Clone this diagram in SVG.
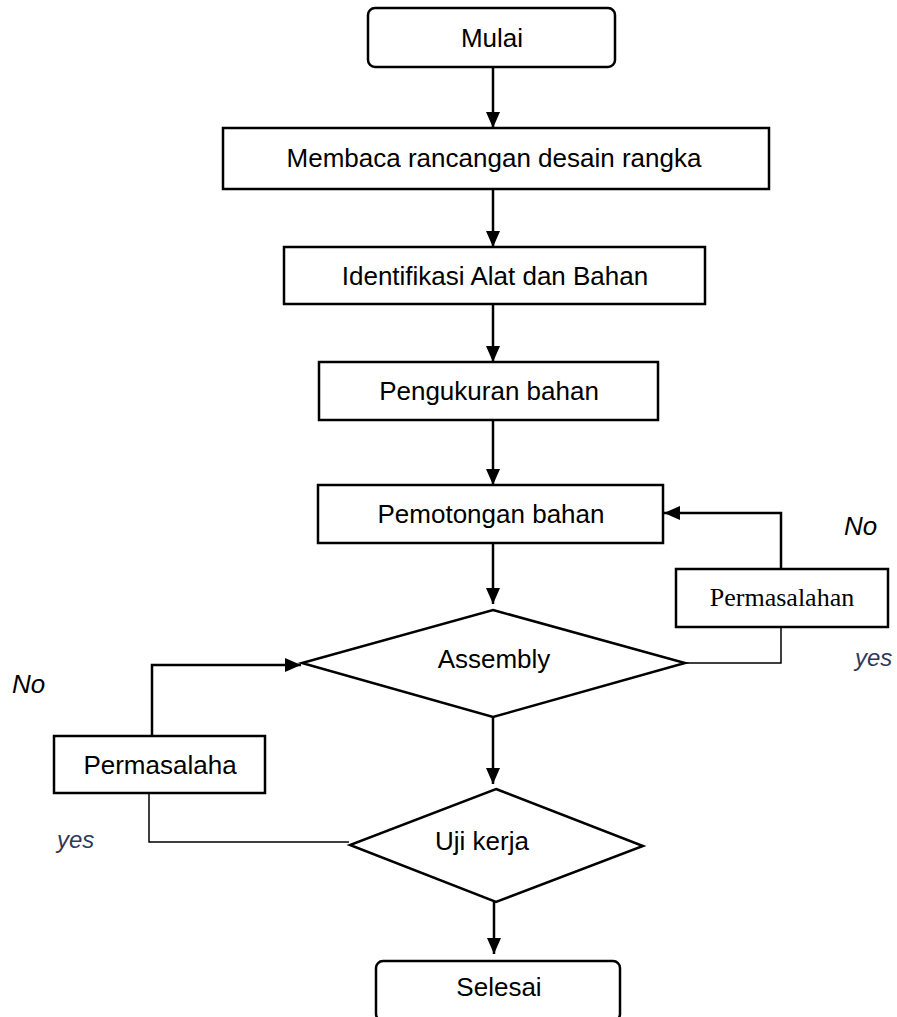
<svg xmlns="http://www.w3.org/2000/svg" width="897" height="1017" viewBox="0 0 897 1017">
<defs>
<marker id="ah" markerUnits="userSpaceOnUse" markerWidth="16" markerHeight="14" refX="16" refY="7" orient="auto">
<path d="M0,0 L16,7 L0,14 Z" fill="#000"/>
</marker>
<style>
.box{fill:#fff;stroke:#000;stroke-width:2.5}
.t{font-family:"Liberation Sans",Arial,sans-serif;font-size:26px;fill:#000;text-anchor:middle}
.ts{font-family:"Liberation Serif","Times New Roman",serif;font-size:26px;fill:#000;text-anchor:middle}
.lab{font-family:"Liberation Sans",Arial,sans-serif;font-size:26px;font-style:italic;fill:#000}
.yes{font-family:"Liberation Sans",Arial,sans-serif;font-size:24px;font-style:italic;fill:#2f3a58}
.c{fill:none;stroke:#000;stroke-width:2.5}
.cthin{fill:none;stroke:#000;stroke-width:1.5}
</style>
</defs>
<rect width="897" height="1017" fill="#fff"/>
<g id="connectors">
<line class="c" x1="493" y1="67" x2="493" y2="128" marker-end="url(#ah)"/>
<line class="c" x1="493" y1="189" x2="493" y2="247" marker-end="url(#ah)"/>
<line class="c" x1="493" y1="304" x2="493" y2="362" marker-end="url(#ah)"/>
<line class="c" x1="493" y1="420" x2="493" y2="485" marker-end="url(#ah)"/>
<line class="c" x1="493" y1="543" x2="493" y2="604" marker-end="url(#ah)"/>
<line class="c" x1="493" y1="717" x2="493" y2="784" marker-end="url(#ah)"/>
<line class="c" x1="494" y1="902" x2="494" y2="954" marker-end="url(#ah)"/>
<polyline class="c" points="781,569 781,513 664,513" marker-end="url(#ah)"/>
<polyline class="cthin" points="685,663 781,663 781,627"/>
<polyline class="c" points="152,736 152,665 301,665" marker-end="url(#ah)"/>
<polyline class="cthin" points="149,793 149,842 349,842"/>
</g>
<g id="mulai">
<rect class="box" x="368" y="8" width="247" height="59" rx="7"/>
<text class="t" x="492" y="47">Mulai</text>
</g>
<g id="membaca">
<rect class="box" x="223" y="128" width="546" height="61"/>
<text class="t" x="494" y="167">Membaca rancangan desain rangka</text>
</g>
<g id="identifikasi">
<rect class="box" x="284" y="247" width="421" height="57"/>
<text class="t" x="495" y="285">Identifikasi Alat dan Bahan</text>
</g>
<g id="pengukuran">
<rect class="box" x="319" y="362" width="339" height="58"/>
<text class="t" x="489" y="400">Pengukuran bahan</text>
</g>
<g id="pemotongan">
<rect class="box" x="318" y="485" width="345" height="58"/>
<text class="t" x="491" y="523">Pemotongan bahan</text>
</g>
<g id="assembly">
<polygon class="box" points="493,610 685,663 493,717 302,663"/>
<text class="t" x="494" y="668">Assembly</text>
</g>
<g id="permasalahan-right">
<rect class="box" x="676" y="569" width="212" height="58"/>
<text class="ts" x="782" y="606">Permasalahan</text>
</g>
<g id="permasalaha-left">
<rect class="box" x="54" y="736" width="211" height="57"/>
<text class="t" x="160" y="774">Permasalaha</text>
</g>
<g id="uji-kerja">
<polygon class="box" points="496,789 643,846 496,902 350,845"/>
<text class="t" x="482" y="850">Uji kerja</text>
</g>
<g id="selesai">
<rect class="box" x="376" y="961" width="244" height="60" rx="7"/>
<text class="t" x="499" y="996">Selesai</text>
</g>
<g id="labels">
<text class="lab" x="844" y="535">No</text>
<text class="yes" x="855" y="666">yes</text>
<text class="lab" x="12" y="693">No</text>
<text class="yes" x="57" y="848">yes</text>
</g>
</svg>
